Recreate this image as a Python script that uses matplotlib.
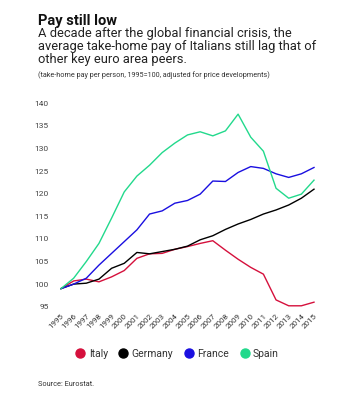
import matplotlib.pyplot as plt
from matplotlib.lines import Line2D

plt.rcParams['font.family'] = ['Roboto', 'DejaVu Sans']

years = list(range(1995, 2016))
italy = [99, 100.7, 101.1, 100.5, 101.6, 103.0, 105.7, 106.7, 106.8, 107.7, 108.3,
         109.0, 109.6, 107.5, 105.5, 103.7, 102.2, 96.5, 95.2, 95.2, 96.0]
germany = [99, 100.0, 100.2, 101.1, 103.5, 104.6, 107.0, 106.7, 107.2, 107.7, 108.4,
           109.8, 110.7, 112.1, 113.3, 114.3, 115.5, 116.4, 117.5, 119.0, 121.0]
france = [99, 100.0, 101.3, 104.2, 106.8, 109.4, 112.0, 115.5, 116.2, 117.9, 118.5,
          119.9, 122.8, 122.7, 124.7, 126.0, 125.6, 124.4, 123.6, 124.4, 125.8]
spain = [99, 101.3, 105.0, 109.0, 114.6, 120.4, 123.9, 126.3, 129.1, 131.2, 133.0,
         133.7, 132.8, 133.9, 137.6, 132.5, 129.4, 121.2, 119.0, 119.9, 123.0]

names = ['Italy', 'Germany', 'France', 'Spain']
colors = ['#d5103c', '#000000', '#1a0fe0', '#22d98c']
yticks = [95, 100, 105, 110, 115, 120, 125, 130, 135, 140]

fig = plt.figure(figsize=(3.54, 4.0), dpi=100)
ax = fig.add_axes([61 / 354, 1 - 306.7 / 400, 253 / 354, 203.4 / 400])

for vals, c in zip([italy, germany, france, spain], colors):
    ax.plot(years, vals, color=c, lw=1.0, clip_on=False)

ax.set_xlim(1995, 2015)
ax.set_ylim(95, 140)
ax.set_yticks(yticks)
ax.set_xticks(years)
ax.set_xticklabels([str(y) for y in years], rotation=45, ha='right',
                   rotation_mode='anchor', fontsize=5.8, color='#333333')
ax.tick_params(axis='y', length=0, pad=9, labelsize=6, labelcolor='#444444')
ax.tick_params(axis='x', length=0, pad=4)
for s in ax.spines.values():
    s.set_visible(False)

fig.text(38 / 354, 1 - 20.5 / 400, 'Pay still low', fontsize=10.5, fontweight='bold',
         va='center', color='#111111')
sub = ['A decade after the global financial crisis, the',
       'average take-home pay of Italians still lag that of',
       'other key euro area peers.']
for i, line in enumerate(sub):
    fig.text(38 / 354, 1 - (33.5 + 13.0 * i) / 400, line, fontsize=9.3,
             va='center', color='#222222')
fig.text(38 / 354, 1 - 75 / 400,
         '(take-home pay per person, 1995=100, adjusted for price developments)',
         fontsize=5.2, va='center', color='#333333')

handles = [Line2D([], [], marker='o', ls='', color=c, markersize=6.5) for c in colors]
fig.legend(handles, names, loc='center', bbox_to_anchor=(0.5, 1 - 354 / 400),
           ncol=4, frameon=False, fontsize=7.5, handletextpad=0.3,
           columnspacing=1.0, handlelength=1.0, labelcolor='#333333')

fig.text(38 / 354, 1 - 384 / 400, 'Source: Eurostat.', fontsize=5.3,
         va='center', color='#333333')

fig.savefig('out.png', dpi=100)
